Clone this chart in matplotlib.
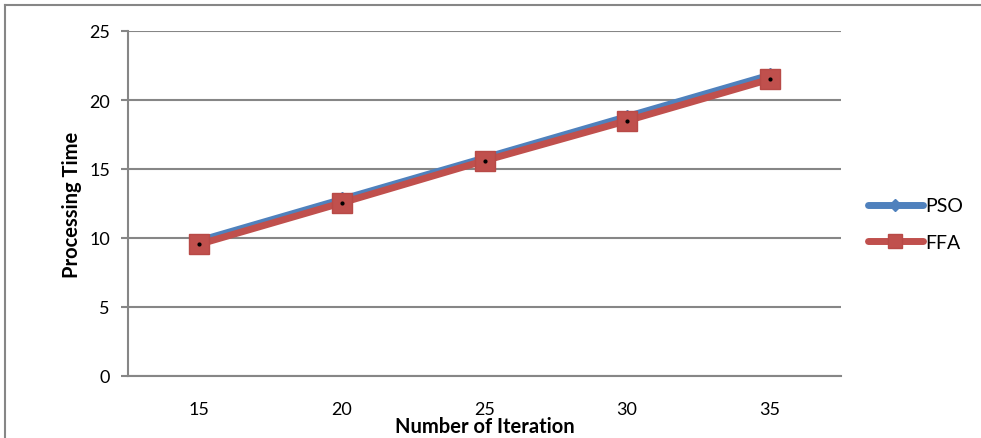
import matplotlib.pyplot as plt
from matplotlib.lines import Line2D

# Processing time per iteration count for the two optimisers
iterations = ['15', '20', '25', '30', '35']
pso_time = [9.8, 12.8, 15.8, 18.8, 21.8]
ffa_time = [9.55, 12.55, 15.6, 18.5, 21.5]

blue = '#4F81BD'
red = '#C0504D'
grid_grey = '#868686'

plt.rcParams['font.family'] = ['Lato', 'DejaVu Sans']

fig = plt.figure(figsize=(9.81, 4.39), dpi=100)
ax = fig.add_axes([128 / 981, 62 / 439, 713 / 981, 345 / 439])

# chart area border (only top and left edges fall inside the image)
fig.add_artist(Line2D([5 / 981, 1], [1 - 6 / 439, 1 - 6 / 439],
                      color=grid_grey, lw=1.5, transform=fig.transFigure))
fig.add_artist(Line2D([5 / 981, 5 / 981], [0, 1 - 6 / 439],
                      color=grid_grey, lw=1.5, transform=fig.transFigure))

x = list(range(len(iterations)))
ax.plot(x, pso_time, color=blue, lw=5, marker='D', ms=7,
        mfc=blue, mec=blue, label='PSO', zorder=3, solid_capstyle='round')
ax.plot(x, ffa_time, color=red, lw=5, marker='s', ms=14,
        mfc=red, mec='#B84A47', label='FFA', zorder=4, solid_capstyle='round')
ax.plot(x, ffa_time, ls='none', marker='o', ms=2, color='black', zorder=5)

ax.set_xlim(-0.5, len(iterations) - 0.5)
ax.set_ylim(0, 25)
ax.set_yticks(range(0, 26, 5))
ax.set_xticks(x)
ax.set_xticklabels(iterations)

ax.yaxis.grid(True, color=grid_grey, lw=1.5)
ax.set_axisbelow(True)
for side in ['top', 'right']:
    ax.spines[side].set_visible(False)
for side in ['left', 'bottom']:
    ax.spines[side].set_color(grid_grey)
    ax.spines[side].set_linewidth(1.5)

ax.tick_params(axis='y', length=5, width=1.5, color=grid_grey,
               labelsize=13, pad=8)
ax.tick_params(axis='x', length=0, labelsize=13, pad=18)

ax.set_xlabel('Number of Iteration', fontsize=14.5, fontweight='bold', labelpad=-1)
ax.set_ylabel('Processing Time', fontsize=14.5, fontweight='bold', labelpad=5)

leg = ax.legend(loc='center left', bbox_to_anchor=(1.0, 0.44), frameon=False,
                fontsize=14, handlelength=2.8, handletextpad=0.15,
                labelspacing=1.0, borderaxespad=1.0)
leg.legend_handles[0].set_markersize(6)
leg.legend_handles[1].set_markersize(10)

plt.savefig('out.png', dpi=100)
